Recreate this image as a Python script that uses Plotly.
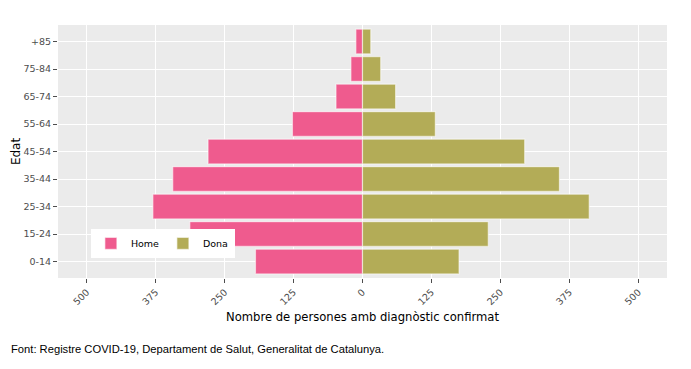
import plotly.graph_objects as go

edats = ["0-14", "15-24", "25-34", "35-44", "45-54", "55-64", "65-74", "75-84", "+85"]
home = [194, 313, 380, 344, 280, 127, 48, 21, 12]
dona = [175, 228, 411, 357, 294, 132, 60, 33, 15]

tick_vals = [-500, -375, -250, -125, 0, 125, 250, 375, 500]
tick_text = ["500", "375", "250", "125", "0", "125", "250", "375", "500"]

pink = "#EF5B8E"
olive = "#B3AC57"

fig = go.Figure()
fig.add_trace(go.Bar(
    y=edats, x=[-v for v in home], orientation="h", name="Home",
    marker=dict(color=pink, line=dict(color="rgba(255,255,255,0.55)", width=1.2)),
    width=0.9, hoverinfo="y+text", text=[str(v) for v in home], textposition="none",
))
fig.add_trace(go.Bar(
    y=edats, x=dona, orientation="h", name="Dona",
    marker=dict(color=olive, line=dict(color="rgba(255,255,255,0.55)", width=1.2)),
    width=0.9, textposition="none",
))

fig.update_layout(
    width=683, height=361,
    barmode="relative",
    paper_bgcolor="white",
    plot_bgcolor="#EBEBEB",
    margin=dict(l=50, r=24, t=17, b=91, autoexpand=False),
    font=dict(family="DejaVu Sans, Verdana, sans-serif", size=10, color="black"),
    showlegend=True,
    legend=dict(
        orientation="h", x=0.054, y=0.194, xanchor="left", yanchor="top",
        bgcolor="white", font=dict(size=9.5, color="black"),
        itemwidth=30, entrywidth=27, tracegroupgap=0,
    ),
    xaxis=dict(
        automargin=False,
        range=[-552, 552], tickvals=tick_vals, ticktext=tick_text,
        tickangle=-45, ticks="outside", ticklen=4, tickcolor="#4d4d4d",
        tickfont=dict(size=9.5, color="#4d4d4d"),
        showgrid=True, gridcolor="white", gridwidth=1.3, zeroline=False,
        title=dict(text="Nombre de persones amb diagnòstic confirmat",
                   font=dict(size=11.6, color="black"), standoff=6),
    ),
    yaxis=dict(
        automargin=False,
        categoryorder="array", categoryarray=edats, range=[-0.6, 8.6],
        ticks="outside", ticklen=4, tickcolor="#4d4d4d",
        tickfont=dict(size=9.5, color="#4d4d4d"),
        showgrid=True, gridcolor="white", gridwidth=1.3, zeroline=False,
        title=dict(text="Edat", font=dict(size=12, color="black"), standoff=0),
    ),
    annotations=[dict(
        text="Font: Registre COVID-19, Departament de Salut, Generalitat de Catalunya.",
        xref="paper", yref="paper", x=-0.08, y=-0.28, xanchor="left", yanchor="middle",
        showarrow=False, font=dict(family="Liberation Sans, Arial, sans-serif", size=11.2, color="black"),
    )],
)

fig.write_html("out.html")
